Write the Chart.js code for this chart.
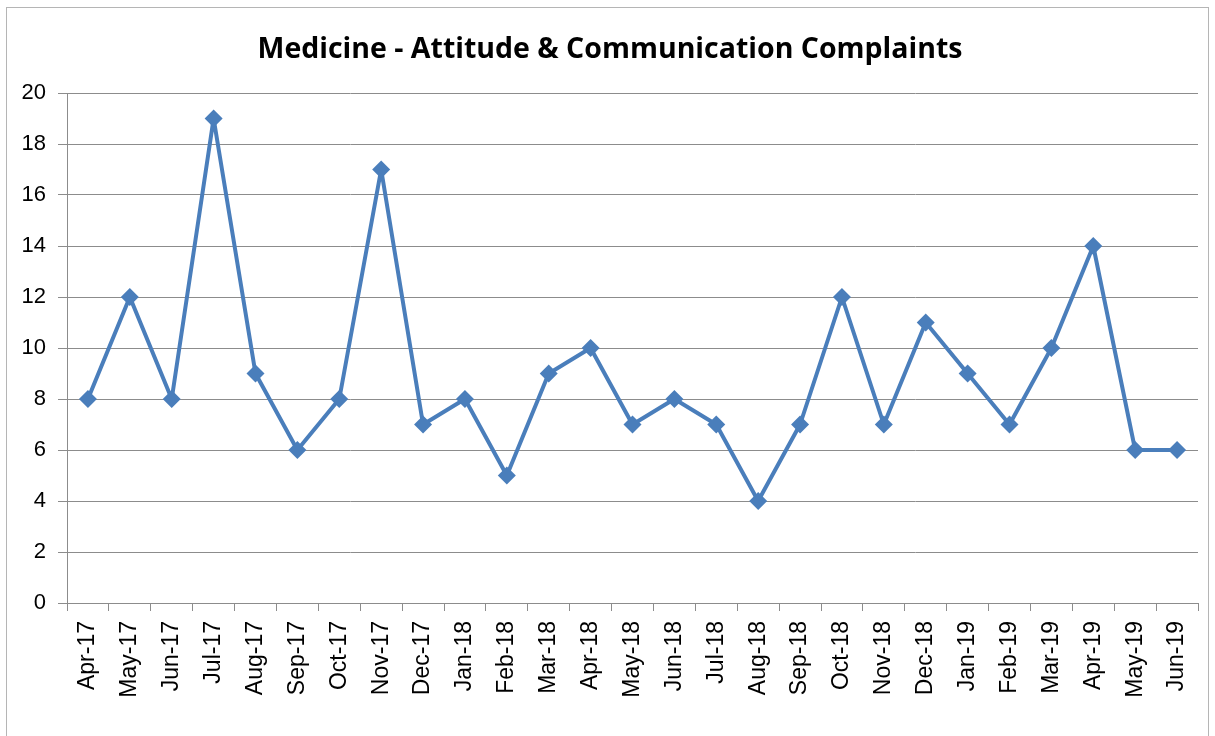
<!DOCTYPE html>
<html>
<head>
<meta charset="utf-8">
<style>
html,body{margin:0;padding:0;background:#fff;}
#wrap{position:absolute;left:0;top:0;width:1215px;height:736px;}
</style>
<script src="https://cdn.jsdelivr.net/npm/chart.js@4/dist/chart.umd.min.js"></script>
</head>
<body>
<div id="wrap"><canvas id="c" width="1215" height="736"></canvas></div>
<script>
const titleText = "Medicine - Attitude & Communication Complaints";
const categories = ["Apr-17","May-17","Jun-17","Jul-17","Aug-17","Sep-17","Oct-17","Nov-17","Dec-17",
  "Jan-18","Feb-18","Mar-18","Apr-18","May-18","Jun-18","Jul-18","Aug-18","Sep-18","Oct-18","Nov-18","Dec-18",
  "Jan-19","Feb-19","Mar-19","Apr-19","May-19","Jun-19"];
const complaints = [8,12,8,19,9,6,8,17,7,8,5,9,10,7,8,7,4,7,12,7,11,9,7,10,14,6,6];
const yTicks = [0,2,4,6,8,10,12,14,16,18,20];

const frame = {
  id:'frame',
  beforeDraw(chart){
    const ctx = chart.ctx;
    ctx.save();
    ctx.fillStyle='#fff';
    ctx.fillRect(0,0,chart.width,chart.height);
    ctx.strokeStyle='#b5b5b5';
    ctx.lineWidth=1;
    ctx.strokeRect(6.5,7.5,1202,760);
    ctx.restore();
  },
  afterDraw(chart){
    const ctx = chart.ctx;
    ctx.save();
    ctx.fillStyle='#000';
    ctx.font='bold 28.5px "Open Sans", Lato, sans-serif';
    ctx.textAlign='center';
    ctx.textBaseline='alphabetic';
    ctx.fillText(titleText, 610, 58);
    ctx.restore();
  }
};

new Chart(document.getElementById('c'), {
  type:'line',
  data:{
    labels:categories,
    datasets:[{
      data:complaints,
      borderColor:'#4a7ebb',
      backgroundColor:'#4a7ebb',
      borderWidth:4,
      borderJoinStyle:'round',
      pointStyle:'rectRot',
      pointRadius:9,
      pointHoverRadius:9,
      pointBorderWidth:0,
      tension:0,
      fill:false
    }]
  },
  options:{
    responsive:false,
    animation:false,
    devicePixelRatio:1,
    layout:{padding:{top:93,right:17,left:0,bottom:0}},
    plugins:{legend:{display:false},title:{display:false},tooltip:{enabled:false}},
    scales:{
      x:{
        offset:true,
        grid:{offset:true,drawOnChartArea:false,drawTicks:true,tickLength:8,color:'#8c8c8c',lineWidth:1},
        border:{display:true,color:'#8c8c8c',width:1},
        ticks:{minRotation:90,maxRotation:90,autoSkip:false,padding:10,color:'#000',
          font:{family:'"Liberation Sans", Arial, sans-serif',size:23}},
        afterFit(s){s.height=133;}
      },
      y:{
        min:0,max:20,
        afterBuildTicks(s){s.ticks=yTicks.map(v=>({value:v}));},
        grid:{color:'#8c8c8c',lineWidth:1,tickLength:9,drawTicks:true},
        border:{display:true,color:'#8c8c8c',width:1},
        ticks:{padding:12,color:'#000',font:{family:'"Liberation Sans", Arial, sans-serif',size:22}},
        afterFit(s){s.width=67;}
      }
    }
  },
  plugins:[frame]
});
</script>
</body>
</html>
